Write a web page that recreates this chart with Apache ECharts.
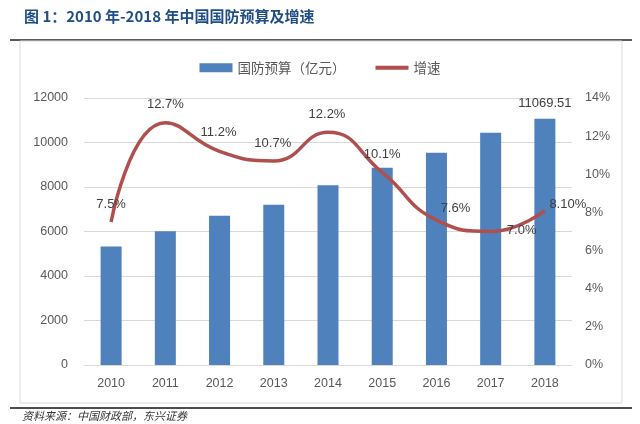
<!DOCTYPE html>
<html><head><meta charset="utf-8">
<script src="https://cdn.jsdelivr.net/npm/echarts@6/dist/echarts.min.js"></script>
<style>html,body{margin:0;padding:0;background:#fff}#c{width:640px;height:424px}</style>
</head><body><div id="c"></div>
<script>
const years = ['2010','2011','2012','2013','2014','2015','2016','2017','2018'];
const budget = [5321, 6011, 6703, 7202, 8082, 8869, 9544, 10433, 11069.51];
const growth = [7.5, 12.7, 11.2, 10.7, 12.2, 10.1, 7.6, 7.0, 8.1];
const growthLabels = ['7.5%','12.7%','11.2%','10.7%','12.2%','10.1%','7.6%','7.0%','8.10%'];
const leftTicks = [0, 2000, 4000, 6000, 8000, 10000, 12000];
const rightTicks = [0, 2, 4, 6, 8, 10, 12, 14];

const labelPos = [
  {position:'top', offset:[0,-6]},
  {position:'top', offset:[0,-6]},
  {position:'top', offset:[-1,-7]},
  {position:'top', offset:[-1,-6]},
  {position:'top', offset:[-1,-6]},
  {position:'top', offset:[0,-6]},
  {position:'top', offset:[19,0]},
  {position:'bottom', offset:[31,-13]},
  {position:'right', offset:[-1,-6]}
];

const chart = echarts.init(document.getElementById('c'), null, {renderer:'canvas'});
const axisFont = {color:'#595959', fontSize:12.5, fontFamily:'Liberation Sans, Arial, sans-serif'};
chart.setOption({
  animation:false,
  backgroundColor:'#fff',
  title:{
    text:'图 1：2010 年-2018 年中国国防预算及增速',
    left:19, top:4,
    textStyle:{color:'#1F4E86', fontSize:15, fontWeight:'bold', fontFamily:'Noto Sans CJK SC, sans-serif'}
  },
  graphic:[
    {type:'line', shape:{x1:10,y1:40,x2:632,y2:40}, style:{stroke:'#222', lineWidth:1.5}},
    {type:'rect', shape:{x:20,y:41,width:602,height:362}, style:{fill:'none', stroke:'#d9d9d9', lineWidth:1}},
    {type:'line', shape:{x1:10,y1:408,x2:632,y2:408}, style:{stroke:'#111', lineWidth:1.5}},
    {type:'text', left:22, top:410, style:{text:'资料来源：中国财政部，东兴证券', fill:'#333', font:'italic 11px "Noto Sans CJK SC", sans-serif'}}
  ],
  legend:{
    top:56, left:'center',
    itemGap:30,
    textStyle:{color:'#595959', fontSize:13.5, fontFamily:'Noto Sans CJK SC, sans-serif'},
    data:[
      {name:'国防预算（亿元）', icon:'rect', itemStyle:{color:'#4F81BD'}},
      {name:'增速', icon:'path://M0,0 H33 V4 H0 Z', itemStyle:{color:'#B0504E', opacity:1}}
    ],
    itemWidth:33, itemHeight:9
  },
  grid:{left:84, right:68, top:98, bottom:59},
  xAxis:{
    type:'category', data:years,
    axisLine:{show:true, lineStyle:{color:'#d9d9d9'}},
    axisTick:{show:false},
    axisLabel:Object.assign({margin:12}, axisFont)
  },
  yAxis:[
    {type:'value', min:0, max:12000, interval:2000,
     axisLabel:Object.assign({margin:16, formatter:v=>String(v)}, axisFont),
     splitLine:{lineStyle:{color:'#d9d9d9'}},
     axisLine:{show:false}, axisTick:{show:false}},
    {type:'value', min:0, max:14, interval:2,
     axisLabel:Object.assign({margin:13, formatter:v=>v+'%'}, axisFont),
     splitLine:{show:false},
     axisLine:{show:false}, axisTick:{show:false}}
  ],
  series:[
    {name:'国防预算（亿元）', type:'bar', data:budget.map((v,i)=>({
        value:v,
        label: i===budget.length-1 ? {show:true, position:'top', distance:9, formatter:'11069.51', color:'#404040', fontSize:13, fontFamily:'Liberation Sans, Arial, sans-serif'} : {show:false}
      })),
     barWidth:21, itemStyle:{color:'#4F81BD'}},
    {name:'增速', type:'line', yAxisIndex:1, smooth:0.5,
     data:growth.map((v,i)=>({value:v, label:Object.assign({show:true, formatter:growthLabels[i], color:'#404040', fontSize:13, fontFamily:'Liberation Sans, Arial, sans-serif'}, labelPos[i])})),
     showSymbol:true, symbol:'circle', symbolSize:1,
     lineStyle:{color:'#B0504E', width:3.5},
     itemStyle:{color:'rgba(0,0,0,0)', borderWidth:0}}
  ]
});
</script></body></html>
